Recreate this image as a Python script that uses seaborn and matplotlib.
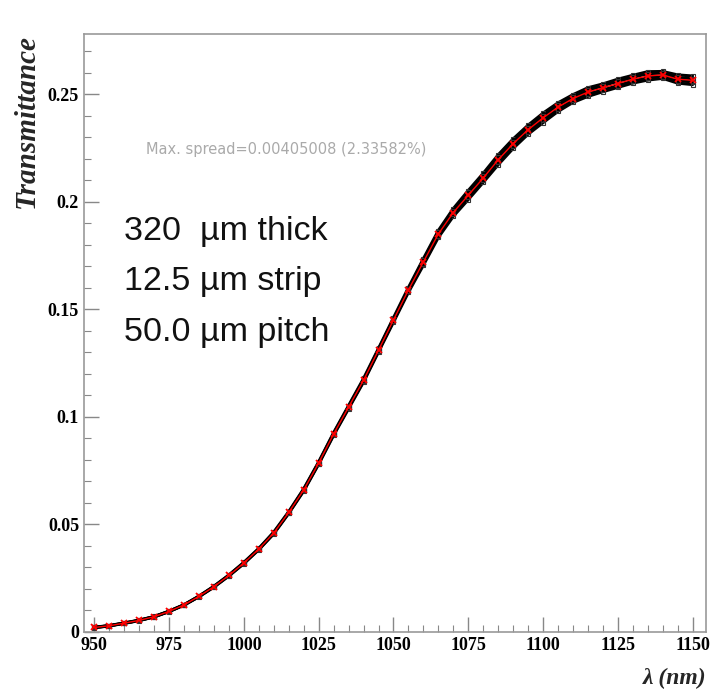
import numpy as np
import pandas as pd
import matplotlib.pyplot as plt
import seaborn as sns

# wavelength grid (nm)
wavelength = [950, 955, 960, 965, 970, 975, 980, 985, 990, 995,
              1000, 1005, 1010, 1015, 1020, 1025, 1030, 1035, 1040, 1045,
              1050, 1055, 1060, 1065, 1070, 1075, 1080, 1085, 1090, 1095,
              1100, 1105, 1110, 1115, 1120, 1125, 1130, 1135, 1140, 1145, 1150]

# average transmittance (red)
mean_trans = [0.0020, 0.0028, 0.0040, 0.0053, 0.0070, 0.0095, 0.0125, 0.0165, 0.0210, 0.0262,
              0.0320, 0.0385, 0.0460, 0.0555, 0.0660, 0.0785, 0.0920, 0.1045, 0.1170, 0.1310,
              0.1450, 0.1590, 0.1720, 0.1850, 0.1950, 0.2030, 0.2110, 0.2195, 0.2270, 0.2335,
              0.2390, 0.2440, 0.2480, 0.2510, 0.2530, 0.2550, 0.2570, 0.2585, 0.2590, 0.2570, 0.2565]

# individual measurements (black)
run_a = [0.0021, 0.0029, 0.0041, 0.0054, 0.0071, 0.0096, 0.0126, 0.0166, 0.0212, 0.0264,
         0.0323, 0.0388, 0.0464, 0.0559, 0.0665, 0.0790, 0.0926, 0.1052, 0.1178, 0.1318,
         0.1460, 0.1601, 0.1735, 0.1866, 0.1968, 0.2052, 0.2132, 0.2218, 0.2292, 0.2356,
         0.2412, 0.2460, 0.2498, 0.2530, 0.2548, 0.2570, 0.2588, 0.2605, 0.2606, 0.2590, 0.2585]
run_b = [0.0019, 0.0027, 0.0039, 0.0052, 0.0069, 0.0094, 0.0124, 0.0163, 0.0208, 0.0260,
         0.0317, 0.0382, 0.0456, 0.0551, 0.0655, 0.0780, 0.0914, 0.1038, 0.1162, 0.1302,
         0.1440, 0.1579, 0.1705, 0.1834, 0.1932, 0.2010, 0.2090, 0.2172, 0.2248, 0.2314,
         0.2368, 0.2420, 0.2462, 0.2490, 0.2512, 0.2532, 0.2552, 0.2566, 0.2574, 0.2552, 0.2545]
run_c = [0.0020, 0.0028, 0.0040, 0.0053, 0.0070, 0.0095, 0.0125, 0.0165, 0.0211, 0.0263,
         0.0321, 0.0386, 0.0461, 0.0556, 0.0662, 0.0787, 0.0922, 0.1048, 0.1172, 0.1313,
         0.1454, 0.1594, 0.1728, 0.1858, 0.1958, 0.2044, 0.2118, 0.2206, 0.2280, 0.2342,
         0.2398, 0.2450, 0.2486, 0.2518, 0.2540, 0.2560, 0.2578, 0.2596, 0.2598, 0.2578, 0.2572]
run_d = [0.0020, 0.0028, 0.0040, 0.0053, 0.0070, 0.0095, 0.0125, 0.0164, 0.0209, 0.0261,
         0.0319, 0.0384, 0.0458, 0.0553, 0.0658, 0.0782, 0.0918, 0.1042, 0.1166, 0.1306,
         0.1446, 0.1586, 0.1712, 0.1842, 0.1942, 0.2020, 0.2102, 0.2184, 0.2260, 0.2326,
         0.2382, 0.2430, 0.2472, 0.2502, 0.2520, 0.2540, 0.2562, 0.2576, 0.2582, 0.2562, 0.2558]

spread_text = 'Max. spread=0.00405008 (2.33582%)'
geometry_lines = ['320  \u00b5m thick', '12.5 \u00b5m strip', '50.0 \u00b5m pitch']

sns.set_style('white')

fig = plt.figure(figsize=(7.11, 6.95), dpi=100)
ax = fig.add_axes([0.118, 0.091, 0.875, 0.86])

for run in [run_a, run_b, run_c, run_d]:
    sns.lineplot(x=wavelength, y=run, ax=ax, color='black', linewidth=2.2,
                 marker='s', markersize=3.5, markerfacecolor='none',
                 markeredgecolor='#333333', markeredgewidth=0.8,
                 estimator=None, sort=False)

sns.lineplot(x=wavelength, y=mean_trans, ax=ax, color='red', linewidth=1.0,
             marker='x', markersize=5, markeredgecolor='red', markeredgewidth=1.3,
             estimator=None, sort=False)

ax.set_xlim(946.5, 1154.5)
ax.set_ylim(0, 0.278)
ax.set_xticks([950, 975, 1000, 1025, 1050, 1075, 1100, 1125, 1150])
ax.set_xticks(np.arange(950, 1155, 5), minor=True)
ax.set_yticks([0, 0.05, 0.1, 0.15, 0.2, 0.25])
ax.set_yticklabels(['0', '0.05', '0.1', '0.15', '0.2', '0.25'])
ax.set_yticks(np.arange(0, 0.275, 0.01), minor=True)

ax.tick_params(which='both', direction='in', colors='#888888', labelcolor='black',
               top=False, right=False, bottom=True, left=True)
ax.tick_params(which='major', length=11, width=1)
ax.tick_params(which='minor', length=5, width=0.8)
for lab in ax.get_xticklabels() + ax.get_yticklabels():
    lab.set_family('Liberation Serif')
    lab.set_fontweight('bold')
    lab.set_fontsize(13)

for sp in ax.spines.values():
    sp.set_color('#999999')
    sp.set_linewidth(1.2)

ax.set_ylabel('Transmittance', family='Liberation Serif', style='italic',
              weight='bold', fontsize=21, loc='top', labelpad=6)
ax.set_xlabel('\u03bb (nm)', family='Liberation Serif', style='italic',
              weight='bold', fontsize=17, loc='right', labelpad=10)

ax.text(0.1, 0.80, spread_text, transform=ax.transAxes, fontsize=10.5,
        color='#aaaaaa', family='DejaVu Sans')
for i, line in enumerate(geometry_lines):
    ax.text(0.064, 0.655 - i * 0.084, line, transform=ax.transAxes,
            fontsize=24.5, family='Liberation Sans', color='#111111')

plt.savefig('out.png', dpi=100)
